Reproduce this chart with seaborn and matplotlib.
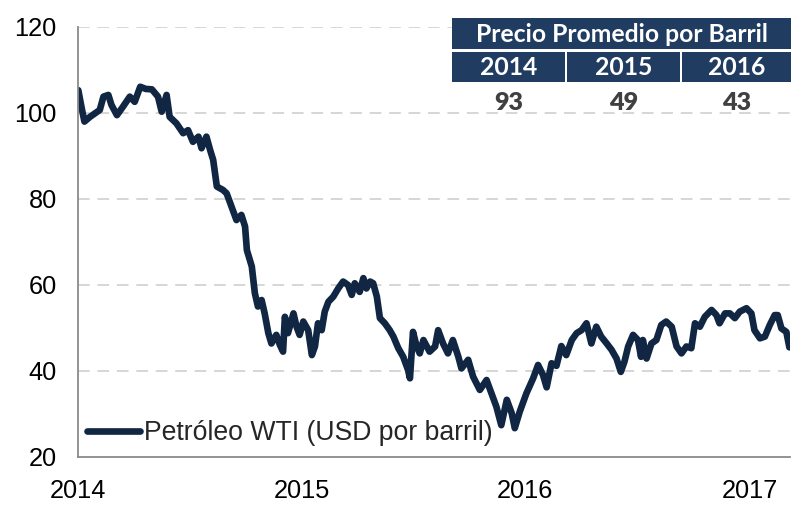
import matplotlib

matplotlib.use("Agg")

import matplotlib.dates as mdates
import matplotlib.pyplot as plt
import pandas as pd
import seaborn as sns
from matplotlib.patches import Rectangle


DATES = [
    "2014-01-02", "2014-01-07", "2014-01-12", "2014-01-21", "2014-01-29", "2014-02-06",
    "2014-02-12", "2014-02-20", "2014-02-25", "2014-03-06", "2014-03-16", "2014-03-27",
    "2014-04-04", "2014-04-13", "2014-04-22", "2014-05-02", "2014-05-12", "2014-05-18",
    "2014-05-26", "2014-05-31", "2014-06-11", "2014-06-22", "2014-06-30", "2014-07-08",
    "2014-07-17", "2014-07-22", "2014-07-30", "2014-08-05", "2014-08-10", "2014-08-16",
    "2014-08-26", "2014-09-01", "2014-09-09", "2014-09-17", "2014-09-25", "2014-10-01",
    "2014-10-04", "2014-10-12", "2014-10-17", "2014-10-22", "2014-10-28", "2014-11-02",
    "2014-11-08", "2014-11-13", "2014-11-21", "2014-11-27", "2014-12-02", "2014-12-05",
    "2014-12-10", "2014-12-19", "2014-12-24", "2014-12-29",
    "2015-01-04", "2015-01-12", "2015-01-18", "2015-01-23", "2015-01-28", "2015-02-03",
    "2015-02-08", "2015-02-14", "2015-02-22", "2015-03-02", "2015-03-10", "2015-03-18",
    "2015-03-24", "2015-03-29", "2015-04-06", "2015-04-12", "2015-04-17", "2015-04-23",
    "2015-04-28", "2015-05-04", "2015-05-09", "2015-05-17", "2015-05-25", "2015-05-31",
    "2015-06-08", "2015-06-16", "2015-06-24", "2015-06-27", "2015-07-02", "2015-07-08",
    "2015-07-13", "2015-07-19", "2015-07-29", "2015-08-07", "2015-08-12", "2015-08-20",
    "2015-08-28", "2015-09-05", "2015-09-14", "2015-09-19", "2015-09-30", "2015-10-08",
    "2015-10-19", "2015-10-30", "2015-11-07", "2015-11-15", "2015-11-23", "2015-12-02",
    "2015-12-10", "2015-12-15", "2015-12-23",
    "2016-01-03", "2016-01-14", "2016-01-22", "2016-01-30", "2016-02-05", "2016-02-13",
    "2016-02-21", "2016-02-29", "2016-03-08", "2016-03-17", "2016-03-25", "2016-04-02",
    "2016-04-10", "2016-04-18", "2016-04-26", "2016-05-04", "2016-05-13", "2016-05-21",
    "2016-05-29", "2016-06-05", "2016-06-11", "2016-06-17", "2016-06-25", "2016-07-03",
    "2016-07-08", "2016-07-11", "2016-07-17", "2016-07-25", "2016-08-02", "2016-08-10",
    "2016-08-18", "2016-08-27", "2016-09-04", "2016-09-12", "2016-09-20", "2016-09-28",
    "2016-10-04", "2016-10-12", "2016-10-20", "2016-10-31", "2016-11-08", "2016-11-13",
    "2016-11-22", "2016-11-30", "2016-12-08", "2016-12-16", "2016-12-27",
    "2017-01-04", "2017-01-09", "2017-01-18", "2017-01-26", "2017-02-03", "2017-02-11",
    "2017-02-16", "2017-02-22", "2017-03-02", "2017-03-07",
]

WTI_PRICE = [
    105.3, 101.5, 98.0, 99.1, 99.9, 100.7,
    103.8, 104.2, 101.9, 99.5, 101.5, 103.8,
    102.6, 106.1, 105.6, 105.5, 103.8, 100.3,
    104.2, 99.1, 97.6, 95.3, 96.0, 93.3,
    94.5, 91.8, 94.5, 91.4, 89.1, 82.9,
    82.1, 81.3, 78.2, 75.1, 76.3, 73.6,
    68.1, 64.3, 58.1, 55.0, 56.5, 53.4,
    48.8, 46.4, 48.4, 46.0, 44.5, 52.6,
    48.8, 53.4, 50.3, 48.4,
    51.5, 49.5, 43.7, 45.7, 51.1, 49.5,
    53.8, 56.1, 57.3, 59.2, 60.8, 60.0,
    57.7, 60.4, 58.4, 61.6, 59.2, 60.8,
    60.4, 57.3, 52.3, 51.1, 49.5, 48.0,
    45.3, 43.3, 40.2, 38.3, 49.1, 45.7,
    44.1, 47.2, 44.5, 45.7, 49.5, 46.4,
    44.1, 47.2, 43.3, 40.6, 42.6, 38.7,
    35.6, 37.9, 34.8, 31.7, 27.4, 33.3,
    30.2, 26.7, 30.5,
    34.8, 38.3, 41.4, 39.1, 36.2, 41.8,
    41.2, 45.8, 43.7, 47.2, 48.8, 49.5,
    51.1, 46.4, 50.3, 48.0, 46.4, 44.9,
    42.9, 39.8, 42.2, 45.7, 48.4, 47.2,
    43.3, 47.2, 42.9, 46.4, 47.2, 50.7,
    51.5, 50.3, 45.7, 44.1, 45.7, 45.3,
    51.1, 50.3, 52.6, 54.2, 53.0, 51.1,
    53.4, 53.4, 52.3, 53.8, 54.6,
    53.4, 49.5, 47.6, 48.0, 50.7, 53.0,
    53.0, 49.9, 49.1, 45.5,
]

SERIES_LABEL = "Petróleo WTI (USD por barril)"
TABLE_TITLE = "Precio Promedio por Barril"
TABLE_YEARS = ["2014", "2015", "2016"]
TABLE_AVERAGES = [93, 49, 43]
Y_TICKS = [20, 40, 60, 80, 100, 120]
X_TICKS = ["2014-01-01", "2015-01-01", "2016-01-01", "2017-01-01"]

LINE_COLOR = "#102642"
HEADER_COLOR = "#203c61"
AXIS_COLOR = "#8a8a8a"
W, H = 807, 505

sns.set_style("white")
plt.rcParams["font.family"] = ["Liberation Sans", "DejaVu Sans"]

df = pd.DataFrame({"fecha": pd.to_datetime(DATES), "precio": WTI_PRICE})

fig = plt.figure(figsize=(W / 100, H / 100), dpi=100)
ax = fig.add_axes([77.7 / W, 1 - 457 / H, (790 - 77.7) / W, (457 - 27) / H])

sns.lineplot(data=df, x="fecha", y="precio", color=LINE_COLOR, linewidth=4.8,
             label=SERIES_LABEL, ax=ax)

ax.set_ylim(20, 120)
ax.set_xlim(pd.Timestamp("2014-01-01"), pd.Timestamp("2017-03-08"))
ax.set_yticks(Y_TICKS)
ax.set_xticks(pd.to_datetime(X_TICKS))
ax.xaxis.set_major_formatter(mdates.DateFormatter("%Y"))
ax.set_xlabel("")
ax.set_ylabel("")

for y in Y_TICKS[1:]:
    ax.axhline(y, color="#d6d6d6", linewidth=1.4, dashes=(6, 4), zorder=0)

for side in ["top", "right"]:
    ax.spines[side].set_visible(False)
for side in ["left", "bottom"]:
    ax.spines[side].set_color(AXIS_COLOR)
    ax.spines[side].set_linewidth(1.3)

ax.tick_params(axis="both", colors=AXIS_COLOR, labelcolor="black", labelsize=18.3,
               length=6, width=1.3, direction="out")
ax.tick_params(axis="y", pad=9)
ax.tick_params(axis="x", pad=10)

ax.legend(loc="center left", bbox_to_anchor=(0.013, 0.056), frameon=False,
          fontsize=19.2, handlelength=2.0, handletextpad=0.15,
          borderpad=0, borderaxespad=0)


def px_rect(x0, y0, x1, y1):
    return Rectangle((x0 / W, 1 - y1 / H), (x1 - x0) / W, (y1 - y0) / H,
                     transform=fig.transFigure, facecolor=HEADER_COLOR,
                     edgecolor="none", zorder=5)


table_font = ["Lato", "DejaVu Sans"]
fig.patches.append(px_rect(452, 18, 791, 49))
fig.text((452 + 791) / 2 / W, 1 - 34 / H, TABLE_TITLE, ha="center", va="center",
         color="white", fontsize=17.8, fontweight="bold", family=table_font, zorder=6)

cells = [(452, 565), (567, 680), (682, 791)]
for (x0, x1), year, avg in zip(cells, TABLE_YEARS, TABLE_AVERAGES):
    fig.patches.append(px_rect(x0, 52, x1, 82))
    fig.text((x0 + x1) / 2 / W, 1 - 67.5 / H, year, ha="center", va="center",
             color="white", fontsize=17.8, fontweight="bold", family=table_font, zorder=6)
    fig.text((x0 + x1) / 2 / W, 1 - 103 / H, str(avg), ha="center", va="center",
             color="#404040", fontsize=18, fontweight="heavy", family=table_font, zorder=6)

fig.savefig("out.png", dpi=100)
plt.close(fig)
